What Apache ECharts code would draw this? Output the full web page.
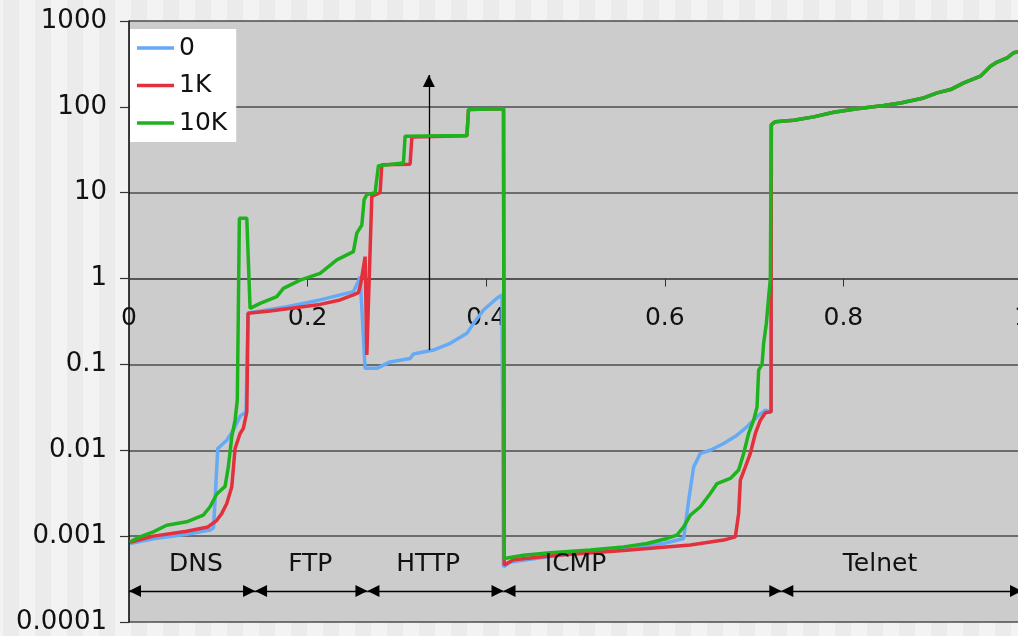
<!DOCTYPE html>
<html>
<head>
<meta charset="utf-8">
<script src="https://cdn.jsdelivr.net/npm/echarts@6/dist/echarts.min.js"></script>
<style>
    html, body { margin: 0; padding: 0; }
    #chart {
        width: 1018px;
        height: 636px;
        background: repeating-linear-gradient(90deg, #f3f3f3 0px, #f3f3f3 3px, #ebebeb 3px, #ebebeb 19px, #f3f3f3 19px, #f3f3f3 32px);
    }
</style>
</head>
<body>
<div id="chart"></div>
<script>
// values: [x, latency]
var zeroData = [[0.0011,0.00082],[0.0272,0.00093],[0.0646,0.00105],[0.0908,0.00118],[0.0947,0.00125],[0.0994,0.0105],
    [0.1095,0.0131],[0.1169,0.0172],[0.1244,0.025],[0.1311,0.028],[0.1333,0.394],[0.1356,0.40],[0.1767,0.47],
    [0.2140,0.564],[0.2513,0.705],[0.2566,0.92],[0.2588,1.05],[0.2644,0.09],[0.2663,0.0897],[0.2775,0.09],
    [0.2924,0.107],[0.3148,0.117],[0.3185,0.132],[0.3409,0.147],[0.3597,0.176],[0.3784,0.23],[0.3858,0.30],
    [0.3970,0.43],[0.4120,0.59],[0.4176,0.645],[0.4194,0.00044],[0.4269,0.0005],[0.4717,0.00058],[0.5165,0.00066],
    [0.5538,0.00072],[0.5986,0.00082],[0.6211,0.00094],[0.6267,0.0026],[0.6323,0.0064],[0.6398,0.0092],
    [0.6510,0.01],[0.6659,0.012],[0.6809,0.015],[0.6921,0.0188],[0.7033,0.0246],[0.7126,0.0294],[0.7190,0.028]];
var oneKData = [[0.0011,0.00085],[0.0272,0.001],[0.0646,0.00114],[0.0885,0.00128],[0.0983,0.00153],[0.1039,0.00184],
    [0.1095,0.0024],[0.1151,0.00376],[0.1188,0.0105],[0.1244,0.0157],[0.1281,0.018],[0.1319,0.028],[0.1333,0.394],
    [0.1580,0.42],[0.2140,0.50],[0.2364,0.564],[0.2513,0.645],[0.2569,0.687],[0.2596,0.88],[0.2644,1.8],
    [0.2663,0.129],[0.2719,9.06],[0.2812,10],[0.2831,21.2],[0.3148,21.5],[0.3168,44.7],[0.3784,46],[0.3802,93],
    [0.4194,95],[0.4202,0.00046],[0.4306,0.00053],[0.4792,0.0006],[0.5538,0.00068],[0.6286,0.00079],[0.6659,0.0009],
    [0.6790,0.00098],[0.6827,0.00184],[0.6846,0.0045],[0.6902,0.0064],[0.6958,0.0092],[0.7014,0.0157],
    [0.7070,0.0224],[0.7126,0.0273],[0.7190,0.028]];
var tenKData = [[0.0011,0.00086],[0.0123,0.00098],[0.0272,0.00112],[0.0422,0.00134],[0.0646,0.00147],[0.0832,0.00176],
    [0.0908,0.0022],[0.0983,0.0031],[0.1076,0.0038],[0.1113,0.0065],[0.1151,0.0144],[0.1188,0.0225],[0.1213,0.0385],
    [0.1236,5.05],[0.1319,5.05],[0.1356,0.45],[0.1468,0.515],[0.1655,0.617],[0.1729,0.77],[0.1916,0.96],
    [0.2140,1.15],[0.2327,1.65],[0.2513,2.06],[0.2551,3.38],[0.2607,4.2],[0.2633,8.3],[0.2663,9.5],[0.2756,10],
    [0.2793,20.6],[0.3073,22.2],[0.3092,45.5],[0.3784,46.5],[0.3802,93],[0.4194,95],[0.4202,0.00055],
    [0.4418,0.0006],[0.4717,0.00064],[0.5165,0.00069],[0.5538,0.00075],[0.5800,0.00082],[0.6024,0.00094],
    [0.6136,0.00103],[0.6211,0.00128],[0.6286,0.00176],[0.6398,0.0022],[0.6510,0.00314],[0.6585,0.0041],
    [0.6734,0.0047],[0.6827,0.0059],[0.6883,0.0092],[0.6939,0.0157],[0.6995,0.0224],[0.7033,0.032],[0.7051,0.086],
    [0.7089,0.1],[0.7107,0.176],[0.7137,0.30],[0.7163,0.61],[0.7182,1.0]];
// telnet part, all three lines lie on top of each other
var telnetData = [[0.7193,62],[0.7238,67],[0.7443,69.8],[0.7667,76.4],[0.7891,86.7],[0.8153,94.8],[0.8451,103.7],
    [0.8639,111],[0.8899,127],[0.9050,145.6],[0.9199,159],[0.9348,190.5],[0.9535,228],[0.9647,298],[0.9722,332],
    [0.9834,373],[0.9908,427],[0.9961,440]];

var seriesNames = ['0', '1K', '10K'];
var seriesColors = ['#66aaf6', '#e2303c', '#1fb21f'];
var yTickLabels = ['0.0001', '0.001', '0.01', '0.1', '1', '10', '100', '1000'];
var segNames = ['DNS', 'FTP', 'HTTP', 'ICMP', 'Telnet'];
var segBounds = [0, 0.1412, 0.267, 0.4194, 0.7305, 1.0];
var segLabelX = [0.075, 0.203, 0.335, 0.50, 0.841];
var segLabelY = 0.00047;
var segArrowY = 0.00023;
var upArrow = [[0.3358, 0.147], [0.3358, 235]];

var yMin = 0.0001, yMax = 1000, crossY = 1;
// plot runs a little past the right edge of the picture
var gridLeft = 129, gridTop = 21, gridWidth = 893, gridBottom = 14;
var plotH = 636 - gridTop - gridBottom;
// x axis sits on the y = 1 line
var crossH = plotH * (Math.log10(yMax) - Math.log10(crossY)) / (Math.log10(yMax) - Math.log10(yMin));

var font = 'DejaVu Sans';
var chart = echarts.init(document.getElementById('chart'));

var lines = [zeroData, oneKData, tenKData].map(function (d, i) {
    return {
        name: seriesNames[i],
        type: 'line',
        data: d.concat(telnetData),
        symbol: 'none',
        lineStyle: {width: 3.5, color: seriesColors[i]},
        itemStyle: {color: seriesColors[i]},
        z: 3 + i
    };
});

var segLines = [];
for (var i = 0; i < segNames.length; i++) {
    segLines.push([{coord: [segBounds[i], segArrowY]}, {coord: [segBounds[i + 1], segArrowY]}]);
}

var annot = {
    name: 'annot',
    type: 'scatter',
    symbolSize: 0,
    z: 8,
    itemStyle: {opacity: 1},
    data: segLabelX.map(function (x) { return [x, segLabelY]; }),
    label: {
        show: true,
        position: 'inside',
        formatter: function (p) { return segNames[p.dataIndex]; },
        fontFamily: font,
        fontSize: 25,
        color: '#111'
    },
    markLine: {
        silent: true,
        animation: false,
        symbol: ['triangle', 'triangle'],
        symbolSize: [12, 12],
        symbolOffset: [[0, '50%'], [0, '50%']],
        label: {show: false},
        lineStyle: {color: '#000', width: 1.3, type: 'solid'},
        data: segLines.concat([[
            {coord: upArrow[0], symbol: 'none'},
            {coord: upArrow[1], symbol: 'triangle'}
        ]])
    }
};

var option = {
    animation: false,
    backgroundColor: 'transparent',
    grid: [
        {left: gridLeft, top: gridTop, width: gridWidth, bottom: gridBottom, outerBoundsMode: 'none',
            show: true, backgroundColor: '#cccccc', borderWidth: 0},
        {left: gridLeft, top: gridTop, width: gridWidth, height: crossH, outerBoundsMode: 'none', show: false}
    ],
    legend: {
        data: seriesNames,
        orient: 'vertical',
        left: 130,
        top: 29,
        backgroundColor: '#ffffff',
        padding: [5, 9, 5, 7],
        icon: 'rect',
        itemWidth: 37,
        itemHeight: 3.5,
        itemGap: 9.5,
        selectedMode: false,
        textStyle: {fontFamily: font, fontSize: 25, color: '#111', lineHeight: 28}
    },
    xAxis: [
        {type: 'value', gridIndex: 0, min: 0, max: 1, show: false},
        {
            type: 'value', gridIndex: 1, min: 0, max: 1, interval: 0.2, position: 'bottom',
            axisLine: {show: true, lineStyle: {color: '#4d4d4d', width: 1.5}},
            axisTick: {show: true, length: 8, lineStyle: {color: '#333'}},
            axisLabel: {margin: 27, fontFamily: font, fontSize: 25, color: '#111'},
            splitLine: {show: false}
        }
    ],
    yAxis: [
        {
            type: 'log', gridIndex: 0, logBase: 10, min: yMin, max: yMax, interval: 1, splitNumber: 7,
            axisLine: {show: true, lineStyle: {color: '#000', width: 1.5}},
            axisTick: {show: true, length: 9, lineStyle: {color: '#333', width: 1.2}},
            axisLabel: {
                margin: 22, fontFamily: font, fontSize: 26, color: '#111',
                formatter: function (v) { return yTickLabels[Math.round(Math.log10(v)) + 4]; }
            },
            splitLine: {show: true, lineStyle: {color: '#4d4d4d', width: 1.5}}
        },
        {type: 'value', gridIndex: 1, min: 0, max: 1, show: false}
    ],
    series: lines.concat([annot])
};

chart.setOption(option);
</script>
</body>
</html>
